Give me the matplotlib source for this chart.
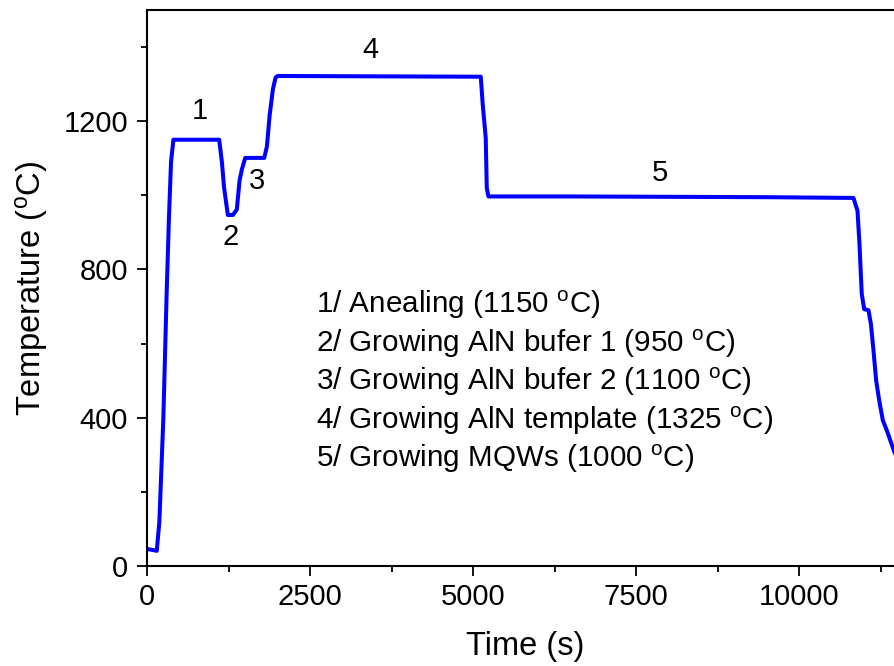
import matplotlib
matplotlib.use("Agg")
import matplotlib.pyplot as plt
from matplotlib.ticker import MultipleLocator

plt.rcParams['font.family'] = ['Liberation Sans', 'DejaVu Sans']
plt.rcParams['mathtext.fontset'] = 'custom'
plt.rcParams['mathtext.rm'] = 'Liberation Sans'
plt.rcParams['mathtext.it'] = 'Liberation Sans:italic'

# Temperature profile (time in s, temperature in °C)
time_s = [0, 150, 190, 251, 302, 338, 369, 405, 1107, 1148, 1183, 1240, 1317, 1378,
          1419, 1455, 1506, 1798, 1839, 1880, 1931, 1972, 2003, 5118, 5148, 5194,
          5210, 5235, 6500, 8000, 9500, 10833, 10895, 10925, 10960, 10997, 11063, 11100,
          11140, 11181, 11227, 11283, 11344, 11461, 11600]
temp_c = [46, 41, 121, 400, 740, 947, 1091, 1150, 1150, 1091, 1019, 947, 947, 962,
          1040, 1070, 1101, 1101, 1132, 1215, 1287, 1318, 1322, 1320, 1245, 1155,
          1020, 997, 997, 996, 995, 993, 958, 868, 734, 693, 690, 653,
          581, 500, 447, 393, 366, 307, 260]

step_labels = ["1", "2", "3", "4", "5"]
step_label_t = [813, 1288, 1687, 3420, 7868]
step_label_T = [1227, 888, 1038, 1393, 1060]

legend_lines = [
    "1/ Anealing (1150 $^\\mathrm{o}$C)",
    "2/ Growing AlN bufer 1 (950 $^\\mathrm{o}$C)",
    "3/ Growing AlN bufer 2 (1100 $^\\mathrm{o}$C)",
    "4/ Growing AlN template (1325 $^\\mathrm{o}$C)",
    "5/ Growing MQWs (1000 $^\\mathrm{o}$C)",
]

fig = plt.figure(figsize=(8.94, 6.66), dpi=100)
# axes spans 0..11600 s; its right spine falls just outside the picture
ax = fig.add_axes([147/894, 100/666, 756.5/894, 556/666])
ax.plot(time_s, temp_c, color='#0000ff', lw=2.9, solid_joinstyle='round')

ax.set_xlim(0, 11600)
ax.set_ylim(0, 1500)
ax.xaxis.set_major_locator(MultipleLocator(2500))
ax.xaxis.set_minor_locator(MultipleLocator(1250))
ax.yaxis.set_major_locator(MultipleLocator(400))
ax.yaxis.set_minor_locator(MultipleLocator(200))
ax.tick_params(which='major', direction='out', length=7.5, width=1.3, labelsize=21, pad=5)
ax.tick_params(axis='y', which='major', pad=6)
ax.tick_params(which='minor', direction='out', length=4, width=1.3)
for s in ax.spines.values():
    s.set_linewidth(1.5)

ax.set_xlabel("Time (s)", fontsize=23.5, labelpad=14)
ax.set_ylabel("Temperature ($^\\mathrm{o}$C)", fontsize=23.5, labelpad=10)

for lab, t, T in zip(step_labels, step_label_t, step_label_T):
    ax.text(t, T, lab, fontsize=21, ha='center', va='center')

for i, line in enumerate(legend_lines):
    fig.text(316/894, 1 - (305 + i * 38.5) / 666, line, fontsize=21.3,
             ha='left', va='center')

fig.savefig("out.png", dpi=100)
